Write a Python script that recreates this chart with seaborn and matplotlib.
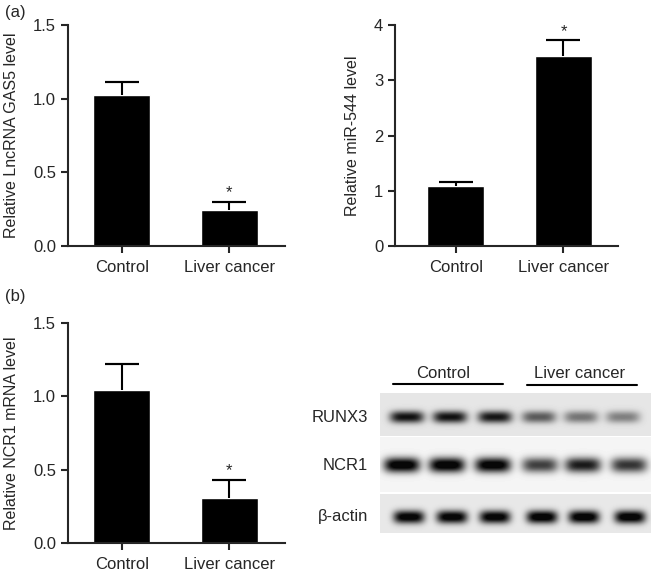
import numpy as np
import pandas as pd
import seaborn as sns
import matplotlib
matplotlib.use("Agg")
import matplotlib.pyplot as plt

# ---- data ----
groups = ["Control", "Liver cancer"]

gas5_mean = [1.025, 0.245]
gas5_err = [0.09, 0.055]

mir544_mean = [1.08, 3.44]
mir544_err = [0.08, 0.28]

ncr1_mean = [1.045, 0.305]
ncr1_err = [0.175, 0.125]

# western blot band intensities (0 = no band, 1 = darkest), lanes 1-6
blot_rows = ["RUNX3", "NCR1", "\u03b2-actin"]
runx3_int = [0.80, 0.80, 0.78, 0.52, 0.42, 0.38]
ncr1_int = [1.00, 1.00, 0.98, 0.68, 0.82, 0.72]
actin_int = [0.92, 0.92, 0.92, 0.95, 0.95, 0.95]

sns.set_style("ticks")
plt.rcParams["font.family"] = ["Liberation Sans", "DejaVu Sans"]
plt.rcParams["axes.linewidth"] = 1.5
plt.rcParams["xtick.major.width"] = 1.5
plt.rcParams["ytick.major.width"] = 1.5
plt.rcParams["xtick.major.size"] = 5
plt.rcParams["ytick.major.size"] = 5

W, H = 651, 574
fig = plt.figure(figsize=(W / 100, H / 100), dpi=100)


def px_axes(x0, y0, x1, y1):
    return fig.add_axes([x0 / W, 1 - y1 / H, (x1 - x0) / W, (y1 - y0) / H])


def bar_panel(ax, means, errs, ylabel, ymax, yticks, fmt, xlim):
    df = pd.DataFrame({"group": groups, "value": means})
    sns.barplot(data=df, x="group", y="value", color="black", width=0.53,
                saturation=1, errorbar=None, ax=ax)
    tops = [m + e for m, e in zip(means, errs)]
    # upper-only error bars with caps
    ax.vlines([0, 1], means, tops, color="black", lw=1.5)
    ax.errorbar(x=[0, 1], y=tops, yerr=[[0, 0], [0, 0]], fmt="none",
                ecolor="black", elinewidth=0, capsize=12, capthick=1.5)
    # significance star above the liver-cancer bar
    ax.annotate("*", xy=(1, tops[1]), xytext=(0, 1),
                textcoords="offset points", ha="center", va="bottom",
                fontsize=12)
    ax.set_ylim(0, ymax)
    ax.set_xlim(*xlim)
    ax.set_yticks(yticks)
    ax.set_yticklabels([fmt.format(t) for t in yticks])
    ax.set_xlabel("")
    ax.set_ylabel(ylabel, fontsize=11.5, labelpad=10)
    ax.tick_params(axis="both", labelsize=12)
    ax.tick_params(axis="x", pad=5)
    sns.despine(ax=ax)


ax1 = px_axes(68, 25, 285, 246)
bar_panel(ax1, gas5_mean, gas5_err, "Relative LncRNA GAS5 level", 1.5,
          [0, 0.5, 1.0, 1.5], "{:.1f}", (-0.5, 1.52))

ax2 = px_axes(395, 25, 618, 246)
bar_panel(ax2, mir544_mean, mir544_err, "Relative miR-544 level", 4,
          [0, 1, 2, 3, 4], "{:.0f}", (-0.567, 1.507))

ax3 = px_axes(68, 323, 285, 543)
bar_panel(ax3, ncr1_mean, ncr1_err, "Relative NCR1 mRNA level", 1.5,
          [0, 0.5, 1.0, 1.5], "{:.1f}", (-0.5, 1.52))

fig.text(5 / W, 1 - 12 / H, "(a)", fontsize=12, va="center", ha="left")
fig.text(5 / W, 1 - 296 / H, "(b)", fontsize=12, va="center", ha="left")

# ---- western blot ----
axb = px_axes(290, 340, 651, 574)
axb.axis("off")

# strip layout: top, bottom, band centre y, band height, band width, background, lane x
strips = [
    (393, 436, 417, 12, 34, 0.90, [407, 450, 495, 539, 581, 623]),
    (437, 492, 465, 15, 36, 0.96, [402, 447, 493, 540, 583, 629]),
    (494, 533, 517, 13, 31, 0.91, [409, 452, 495, 542, 584, 630]),
]
xs = np.arange(380, 651) + 0.5
for (top, bot, cy, bh, bw, bg, lanes), name, ints in zip(
        strips, blot_rows, [runx3_int, ncr1_int, actin_int]):
    ys = np.arange(top, bot) + 0.5
    X, Y = np.meshgrid(xs, ys)
    img = np.full(X.shape, bg)
    for c, k in zip(lanes, ints):
        shape = (np.exp(-np.abs((X - c) / (bw / 2)) ** 4)
                 * np.exp(-np.abs((Y - cy) / (bh / 2)) ** 2.2))
        img -= 1.05 * k * shape
    img = np.clip(img, 0.03, 1)
    axb.imshow(img, cmap="gray", vmin=0, vmax=1, extent=(380, 651, bot, top),
               aspect="auto", interpolation="bilinear")
    axb.text(368, cy, name, ha="right", va="center", fontsize=12)

axb.set_xlim(290, 651)
axb.set_ylim(574, 340)

axb.text(443, 373, "Control", ha="center", va="center", fontsize=12)
axb.text(580, 373, "Liver cancer", ha="center", va="center", fontsize=12)
axb.plot([393, 503], [384, 384], color="black", lw=1.5)
axb.plot([527, 637], [385, 385], color="black", lw=1.5)

fig.savefig("out.png", dpi=100)
